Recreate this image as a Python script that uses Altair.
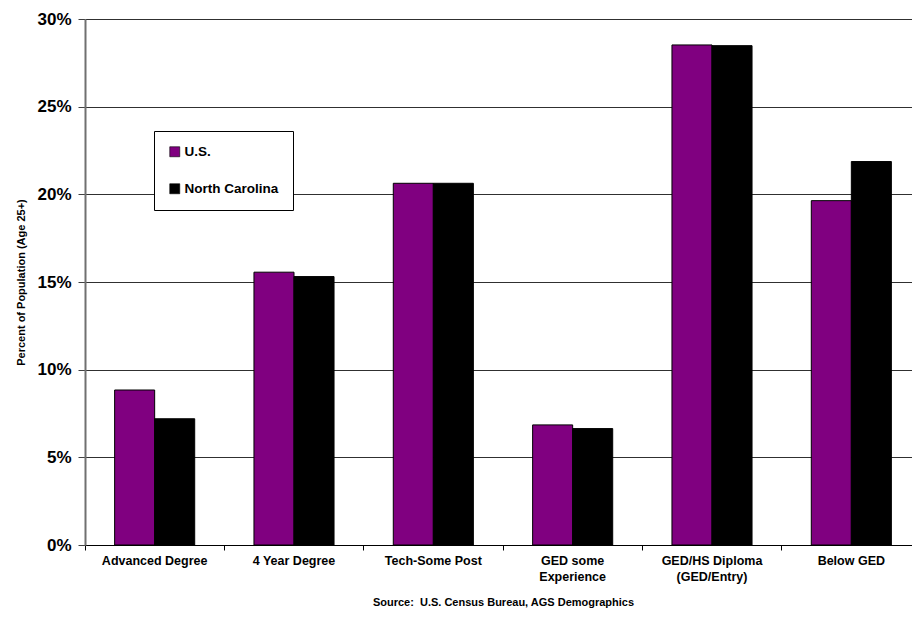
import altair as alt
import pandas as pd

categories = ["Advanced Degree", "4 Year Degree", "Tech-Some Post",
              "GED some\nExperience", "GED/HS Diploma\n(GED/Entry)", "Below GED"]
series = ["U.S.", "North Carolina"]
us_values = [8.84, 15.56, 20.63, 6.85, 28.52, 19.64]
nc_values = [7.20, 15.31, 20.63, 6.64, 28.48, 21.87]
colors = ["#800080", "#000000"]
source_text = "Source:\u00a0 U.S. Census Bureau, AGS Demographics"

rows = []
for c, u, n in zip(categories, us_values, nc_values):
    rows.append({"category": c, "series": series[0], "value": u / 100})
    rows.append({"category": c, "series": series[1], "value": n / 100})
df = pd.DataFrame(rows)

FONT = "Liberation Sans"

x_scale = alt.Scale(domain=categories, range=[0, 836], paddingInner=0, paddingOuter=0)
y_scale = alt.Scale(domain=[0, 0.30])
color_scale = alt.Scale(domain=series, range=colors)
xoff_scale = alt.Scale(domain=series, paddingOuter=0.74, paddingInner=0)

legend = alt.Legend(
    title=None, orient="none", legendX=69, legendY=112,
    direction="vertical", symbolType="square", symbolSize=100,
    symbolStrokeColor="black", symbolStrokeWidth=0.6,
    labelFont=FONT, labelFontSize=13.5, labelFontWeight="bold", labelColor="black",
    padding=14, rowPadding=22, labelOffset=3,
    strokeColor="black", fillColor="white",
)

bars = alt.Chart(df).mark_bar(stroke="black", strokeWidth=1).encode(
    x=alt.X("category:N", scale=x_scale, sort=categories,
            axis=alt.Axis(
                orient="bottom",
                title=source_text,
                titleFont=FONT, titleFontSize=11, titleFontWeight="bold",
                titleColor="black", titlePadding=14,
                labelFont=FONT, labelFontSize=12.5, labelFontWeight="bold",
                labelColor="black", labelAngle=0, labelPadding=9,
                labelExpr="split(datum.label, '\\n')", labelLineHeight=16,
                ticks=False, tickSize=0, domain=True, domainColor="black",
                domainWidth=1, grid=False, labelLimit=200)),
    xOffset=alt.XOffset("series:N", scale=xoff_scale, sort=series),
    y=alt.Y("value:Q", scale=y_scale,
            axis=alt.Axis(
                title="Percent of Population (Age 25+)", format=".0%",
                values=[0, 0.05, 0.10, 0.15, 0.20, 0.25, 0.30],
                titleFont=FONT, titleFontSize=11, titleFontWeight="bold",
                titleColor="black", titlePadding=10,
                labelFont=FONT, labelFontSize=17, labelFontWeight="bold",
                labelColor="black", labelPadding=7,
                tickSize=7, tickColor="#404040", tickWidth=1,
                domainColor="#707070", domainWidth=2,
                grid=True, gridColor="#303030", gridWidth=1)),
    color=alt.Color("series:N", scale=color_scale, sort=series, legend=legend),
)

tick_layer = alt.Chart(df).mark_bar(opacity=0).encode(
    x=alt.X("category:N", scale=x_scale, sort=categories,
            axis=alt.Axis(orient="bottom", title=None, labels=False,
                          domain=False, grid=False,
                          ticks=True, tickSize=5, tickColor="black",
                          tickWidth=1, bandPosition=0)),
    xOffset=alt.XOffset("series:N", scale=xoff_scale, sort=series),
    y=alt.Y("value:Q", scale=y_scale),
    color=alt.Color("series:N", scale=color_scale, sort=series, legend=legend),
)

chart = alt.layer(bars, tick_layer).resolve_axis(x="independent").properties(
    width=827, height=526,
    autosize=alt.AutoSizeParams(type="none"),
    padding={"left": 85, "top": 19, "right": 0, "bottom": 79},
    background="white",
).configure_view(stroke=None)

chart.save("out.html", embed_options={"renderer": "svg", "actions": False})
